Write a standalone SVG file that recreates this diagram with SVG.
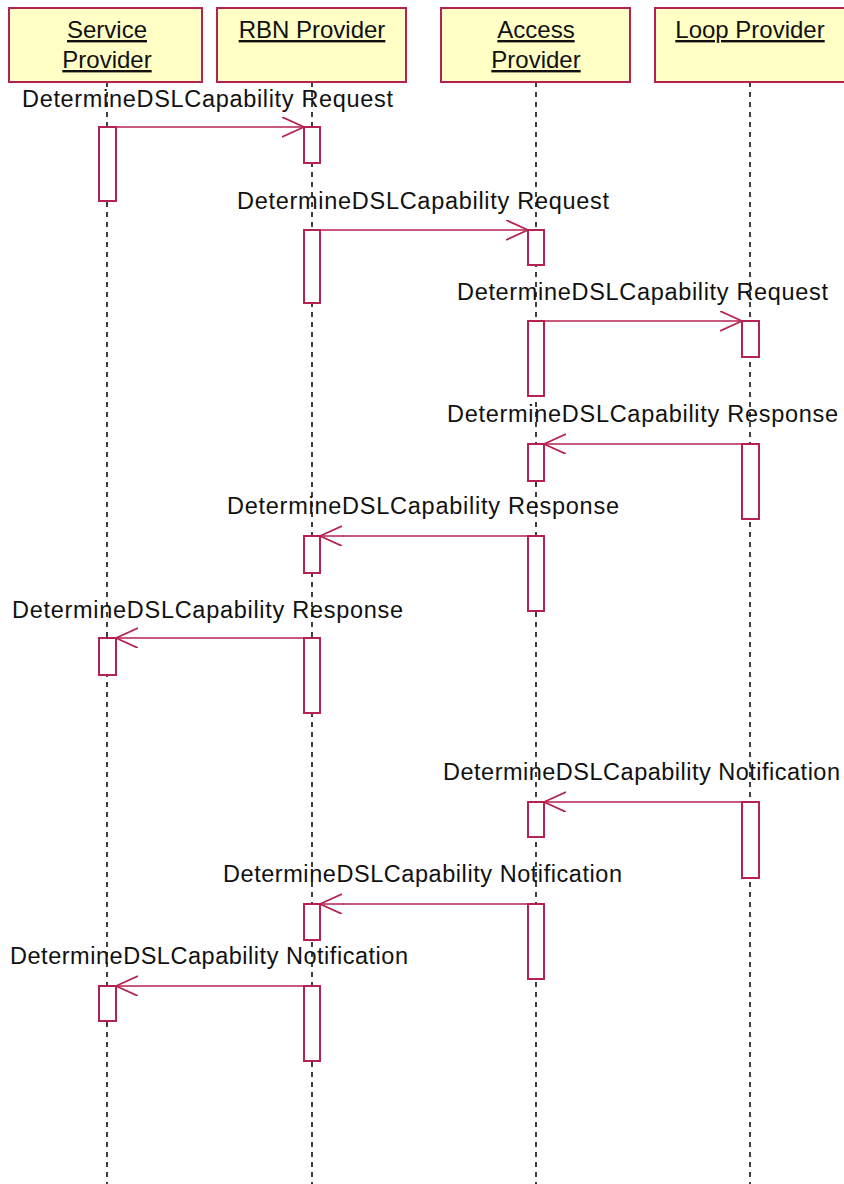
<svg xmlns="http://www.w3.org/2000/svg" width="844" height="1184" viewBox="0 0 844 1184">
<style>
.hdr{fill:#FFFFC6;stroke:#B4234F;stroke-width:2}
.ht{font-family:"Liberation Sans",Arial,sans-serif;font-size:24px;fill:#111;text-anchor:middle;text-decoration:underline}
.life{stroke:#111;stroke-width:1.6;stroke-dasharray:5,5;fill:none}
.act{fill:#fff;stroke:#B4234F;stroke-width:2}
.msg{stroke:#B4234F;stroke-width:1.6;fill:none;marker-end:url(#arr)}
.lbl{font-family:"Liberation Sans",Arial,sans-serif;font-size:23.5px;fill:#111}
</style>
<defs>
<marker id="arr" markerUnits="userSpaceOnUse" markerWidth="24" markerHeight="22" refX="22" refY="10" orient="auto">
<path d="M0,0 L22,10 L0,20" fill="none" stroke="#B4234F" stroke-width="1.8"/>
</marker>
</defs>
<rect width="844" height="1184" fill="#fff"/>
<g id="lifelines">
<line class="life" x1="107" y1="82" x2="107" y2="1184"/>
<line class="life" x1="312" y1="82" x2="312" y2="1184"/>
<line class="life" x1="536" y1="82" x2="536" y2="1184"/>
<line class="life" x1="750" y1="82" x2="750" y2="1184"/>
</g>
<g id="service-provider">
<rect class="hdr" x="9" y="8" width="193" height="74"/>
<text class="ht" x="107" y="38">Service </text>
<text class="ht" x="107" y="68">Provider</text>
</g>
<g id="rbn-provider">
<rect class="hdr" x="217" y="8" width="189" height="74"/>
<text class="ht" x="312" y="38">RBN Provider</text>
</g>
<g id="access-provider">
<rect class="hdr" x="441" y="8" width="189" height="74"/>
<text class="ht" x="536" y="38">Access </text>
<text class="ht" x="536" y="68">Provider</text>
</g>
<g id="loop-provider">
<rect class="hdr" x="655" y="8" width="195" height="74"/>
<text class="ht" x="750" y="38">Loop Provider</text>
</g>
<g id="activations">
<rect class="act" x="99" y="127" width="17" height="74"/>
<rect class="act" x="304" y="127" width="16" height="36"/>
<rect class="act" x="304" y="230" width="16" height="73"/>
<rect class="act" x="528" y="230" width="16" height="35"/>
<rect class="act" x="528" y="321" width="16" height="75"/>
<rect class="act" x="742" y="321" width="17" height="36"/>
<rect class="act" x="742" y="444" width="17" height="75"/>
<rect class="act" x="528" y="444" width="16" height="37"/>
<rect class="act" x="528" y="536" width="16" height="75"/>
<rect class="act" x="304" y="536" width="16" height="37"/>
<rect class="act" x="304" y="638" width="16" height="75"/>
<rect class="act" x="99" y="638" width="17" height="37"/>
<rect class="act" x="742" y="802" width="17" height="76"/>
<rect class="act" x="528" y="802" width="16" height="35"/>
<rect class="act" x="528" y="904" width="16" height="75"/>
<rect class="act" x="304" y="904" width="16" height="36"/>
<rect class="act" x="304" y="986" width="16" height="75"/>
<rect class="act" x="99" y="986" width="17" height="35"/>
</g>
<g id="connectors">
<line class="msg" x1="116" y1="127" x2="304" y2="127"/>
<text class="lbl" x="22" y="107" textLength="371">DetermineDSLCapability Request</text>
<line class="msg" x1="320" y1="230" x2="528" y2="230"/>
<text class="lbl" x="237" y="209" textLength="372">DetermineDSLCapability Request</text>
<line class="msg" x1="544" y1="321" x2="742" y2="321"/>
<text class="lbl" x="457" y="300" textLength="371">DetermineDSLCapability Request</text>
<line class="msg" x1="742" y1="444" x2="544" y2="444"/>
<text class="lbl" x="447" y="422" textLength="391">DetermineDSLCapability Response</text>
<line class="msg" x1="528" y1="536" x2="320" y2="536"/>
<text class="lbl" x="227" y="514" textLength="392">DetermineDSLCapability Response</text>
<line class="msg" x1="304" y1="638" x2="116" y2="638"/>
<text class="lbl" x="12" y="618" textLength="391">DetermineDSLCapability Response</text>
<line class="msg" x1="742" y1="802" x2="544" y2="802"/>
<text class="lbl" x="443" y="780" textLength="397">DetermineDSLCapability Notification</text>
<line class="msg" x1="528" y1="904" x2="320" y2="904"/>
<text class="lbl" x="223" y="882" textLength="399">DetermineDSLCapability Notification</text>
<line class="msg" x1="304" y1="986" x2="116" y2="986"/>
<text class="lbl" x="10" y="964" textLength="398">DetermineDSLCapability Notification</text>
</g>
</svg>
